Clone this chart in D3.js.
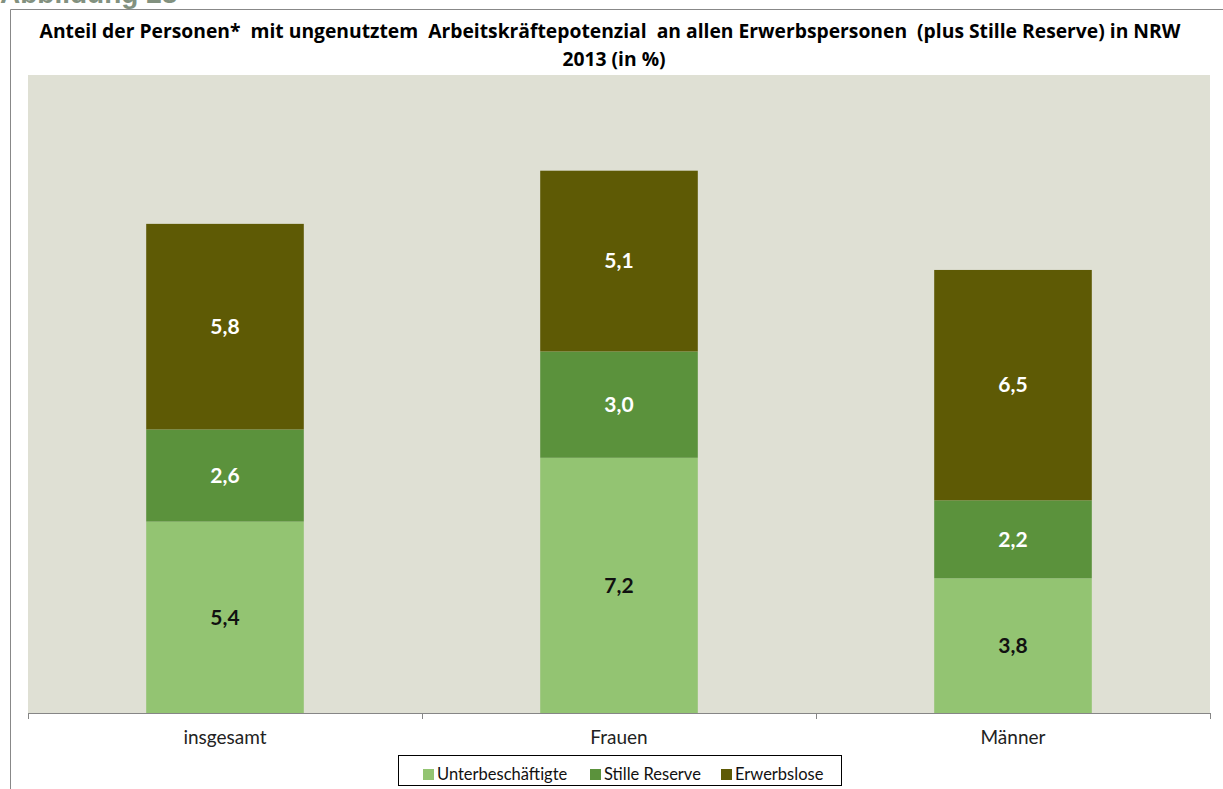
<!DOCTYPE html>
<html>
<head>
<meta charset="utf-8">
<script src="https://cdn.jsdelivr.net/npm/d3@7"></script>
<style>
  body { margin: 0; background: #fff; }
  svg text { font-family: Lato, "Open Sans", sans-serif; }
</style>
</head>
<body>
<script>
// data
var categories = ["insgesamt", "Frauen", "Männer"];
var seriesNames = ["Unterbeschäftigte", "Stille Reserve", "Erwerbslose"];
var unterbeschaeftigte = [5.4, 7.2, 3.8];
var stilleReserve = [2.6, 3.0, 2.2];
var erwerbslose = [5.8, 5.1, 6.5];
var colors = ["#93c472", "#5b923c", "#5e5a05"];
var labelColors = ["#111", "#fff", "#fff"];

var width = 1223, height = 789;
var plot = {left: 28, right: 1210, top: 75, bottom: 713};

var svg = d3.select("body").append("svg")
    .attr("width", width)
    .attr("height", height);

// "Abbildung 28" heading, cut off at the top like in the source
svg.append("text")
    .attr("x", 0).attr("y", 3)
    .attr("fill", "#82917f")
    .style("font-family", "Liberation Sans, Arial, sans-serif")
    .style("font-weight", "bold")
    .style("font-size", "28px")
    .text("Abbildung 28");

// chart frame
svg.append("path")
    .attr("d", "M10.5," + height + "V9.5H" + width)
    .attr("fill", "none")
    .attr("stroke", "#888")
    .attr("stroke-width", 1);

// title
var title = svg.append("text")
    .attr("text-anchor", "middle")
    .style("font-family", "'Open Sans', sans-serif")
    .style("font-weight", "bold")
    .style("font-size", "19.3px")
    .style("white-space", "pre")
    .attr("fill", "#000");
title.append("tspan").attr("x", 610).attr("y", 38)
    .text("Anteil der Personen*  mit ungenutztem  Arbeitskräftepotenzial  an allen Erwerbspersonen  (plus Stille Reserve) in NRW");
title.append("tspan").attr("x", 614).attr("y", 66).text("2013 (in %)");

// plot background
svg.append("rect")
    .attr("x", plot.left).attr("y", plot.top)
    .attr("width", plot.right - plot.left)
    .attr("height", plot.bottom - plot.top)
    .attr("fill", "#dfe0d4");

var xScale = d3.scaleBand()
    .domain(categories)
    .range([plot.left, plot.right])
    .paddingInner(0.6)
    .paddingOuter(0.3);

var yScale = d3.scaleLinear()
    .domain([0, 18])
    .range([plot.bottom, plot.top]);

var table = categories.map(function(c, i) {
    return {cat: c, "Unterbeschäftigte": unterbeschaeftigte[i],
            "Stille Reserve": stilleReserve[i], "Erwerbslose": erwerbslose[i]};
});
var stacked = d3.stack().keys(seriesNames)(table);

var layers = svg.selectAll(".layer")
    .data(stacked)
    .enter().append("g")
        .attr("class", "layer")
        .attr("fill", function(d, i) { return colors[i]; });

layers.selectAll("rect")
    .data(function(d) { return d; })
    .enter().append("rect")
        .attr("x", function(d) { return xScale(d.data.cat); })
        .attr("y", function(d) { return yScale(d[1]); })
        .attr("height", function(d) { return yScale(d[0]) - yScale(d[1]); })
        .attr("width", xScale.bandwidth());

// value labels
stacked.forEach(function(s, i) {
    svg.selectAll(null)
        .data(s)
        .enter().append("text")
            .attr("x", function(d) { return xScale(d.data.cat) + xScale.bandwidth() / 2; })
            .attr("y", function(d) { return (yScale(d[0]) + yScale(d[1])) / 2; })
            .attr("dy", "0.35em")
            .attr("text-anchor", "middle")
            .attr("fill", labelColors[i])
            .style("font-weight", "bold")
            .style("font-size", "21px")
            .text(function(d) { return d3.format(".1f")(d[1] - d[0]).replace(".", ","); });
});

// x axis with tick marks between categories
var tickPos = d3.range(categories.length + 1).map(function(i) { return plot.left + i * (plot.right - plot.left) / categories.length; });
var axis = svg.append("g").attr("stroke", "#868686");
axis.append("line")
    .attr("x1", plot.left).attr("x2", plot.right)
    .attr("y1", plot.bottom + 0.5).attr("y2", plot.bottom + 0.5);
axis.selectAll(".tick")
    .data(tickPos)
    .enter().append("line")
        .attr("x1", function(d) { return Math.round(d) + 0.5; })
        .attr("x2", function(d) { return Math.round(d) + 0.5; })
        .attr("y1", plot.bottom).attr("y2", plot.bottom + 6);

svg.selectAll(".cat")
    .data(categories)
    .enter().append("text")
        .attr("x", function(d) { return xScale(d) + xScale.bandwidth() / 2; })
        .attr("y", 744)
        .attr("text-anchor", "middle")
        .attr("fill", "#222")
        .style("font-size", "19px")
        .text(function(d) { return d; });

// legend
var legend = svg.append("g");
legend.append("rect")
    .attr("x", 398.5).attr("y", 755.5)
    .attr("width", 443).attr("height", 30)
    .attr("fill", "#fff").attr("stroke", "#000");
var legendX = [423, 590, 721];
seriesNames.forEach(function(n, i) {
    legend.append("rect")
        .attr("x", legendX[i]).attr("y", 769)
        .attr("width", 11).attr("height", 11)
        .attr("fill", colors[i]);
    legend.append("text")
        .attr("x", legendX[i] + 14).attr("y", 780)
        .attr("fill", "#111")
        .style("font-size", "16.5px")
        .text(n);
});
</script>
</body>
</html>
